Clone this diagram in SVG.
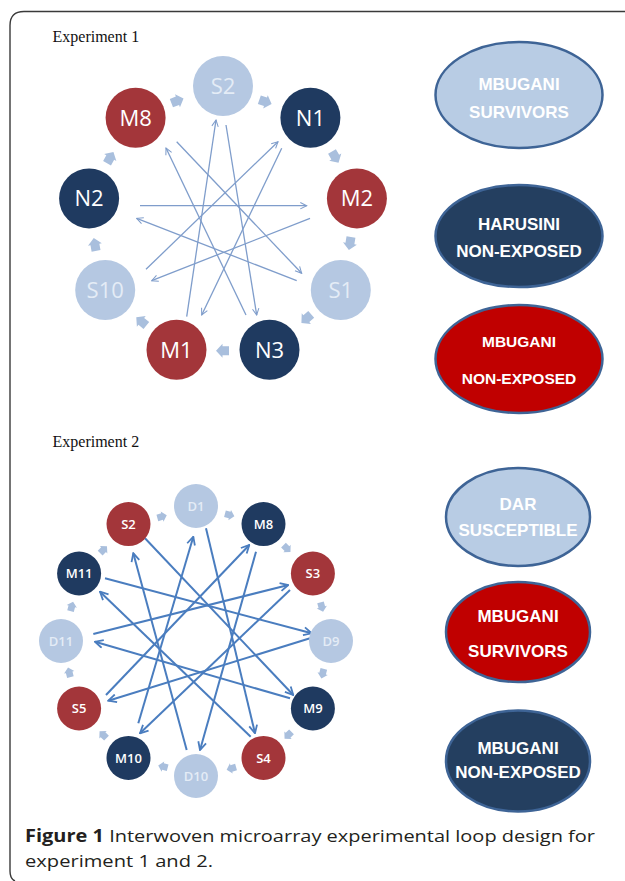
<svg xmlns="http://www.w3.org/2000/svg" xmlns:xlink="http://www.w3.org/1999/xlink" width="625" height="881" viewBox="0 0 625 881">
<style>
.frame{fill:none;stroke:#3a3a3a;stroke-width:1.4}
.hdr{font-family:"Liberation Serif","Times New Roman",serif;font-size:16px;fill:#111}
.red{fill:#a3363a}
.navy{fill:#1f3a60}
.lite{fill:#b5c8e2}
.t1{font-family:"Open Sans","Noto Sans",sans-serif;font-size:22px;fill:#fff;text-anchor:middle}
.t2{font-family:"Open Sans","Noto Sans",sans-serif;font-size:13px;font-weight:600;fill:#fff;text-anchor:middle}
.tl{fill:#e4ecf6}
.c1{fill:none;stroke:#7f9dcb;stroke-width:1.3;marker-end:url(#a1)}
.c2{fill:none;stroke:#4a7dbf;stroke-width:2;marker-end:url(#a2)}
.sa{fill:#a9bfdd}
.leg{stroke:#3e6496;stroke-width:2.5}
.lt{font-family:"Liberation Sans",Arial,sans-serif;font-weight:bold;font-size:17px;fill:#fff;text-anchor:middle}
.cap{font-family:"Open Sans","Noto Sans",sans-serif;font-size:17px;fill:#231f20}
</style>
<defs>
<marker id="a1" viewBox="0 0 10 10" refX="9" refY="5" markerWidth="8" markerHeight="8" orient="auto" markerUnits="userSpaceOnUse">
<path d="M1,1 L9,5 L1,9" fill="none" stroke="#7f9dcb" stroke-width="1.3"/>
</marker>
<marker id="a2" viewBox="0 0 10 10" refX="9" refY="5" markerWidth="10" markerHeight="10" orient="auto" markerUnits="userSpaceOnUse">
<path d="M1,1 L9,5 L1,9" fill="none" stroke="#4a7dbf" stroke-width="1.8"/>
</marker>
<path id="la" d="M-6,-4.5 L0.5,-4.5 L0.5,-7 L7,0 L0.5,7 L0.5,4.5 L-6,4.5 Z"/>
</defs>
<rect width="625" height="881" fill="#fff"/>
<path class="frame" d="M625,11.5 H24 Q10,11.5 10,25.5 V871 Q10,879 15,881"/>

<text class="hdr" x="52.5" y="42">Experiment 1</text>
<text class="hdr" x="52.5" y="447">Experiment 2</text>

<g id="exp1-loop-arrows" class="sa">
<use xlink:href="#la" transform="translate(177,101) rotate(-20.8)"/>
<use xlink:href="#la" transform="translate(265,101.7) rotate(19.2)"/>
<use xlink:href="#la" transform="translate(335,156.7) rotate(59.8)"/>
<use xlink:href="#la" transform="translate(350,243) rotate(99.4)"/>
<use xlink:href="#la" transform="translate(306.7,318.3) rotate(139)"/>
<use xlink:href="#la" transform="translate(223,350.7) rotate(180)"/>
<use xlink:href="#la" transform="translate(141.7,321.7) rotate(219.2)"/>
<use xlink:href="#la" transform="translate(95,245) rotate(259.8)"/>
<use xlink:href="#la" transform="translate(110,158) rotate(-60.5)"/>
</g>

<g id="exp1-connectors">
<path class="c1" d="M140,205.7 L306.7,205.7"/>
<path class="c1" d="M310,218.3 L151.7,280.7"/>
<path class="c1" d="M296.7,280.7 L136.7,218.3"/>
<path class="c1" d="M146,269.3 L278,141.7"/>
<path class="c1" d="M281.7,148.3 L201.7,315"/>
<path class="c1" d="M186.7,316.7 L216,120"/>
<path class="c1" d="M226,125 L256.7,315"/>
<path class="c1" d="M246,315 L166,148"/>
<path class="c1" d="M176.7,141.7 L301.7,273.3"/>
</g>

<g id="e1-S2"><circle class="lite" cx="223" cy="86" r="30"/><text class="t1 tl" x="223" y="93.8">S2</text></g>
<g id="e1-N1"><circle class="navy" cx="310.4" cy="117.8" r="30"/><text class="t1" x="310.4" y="125.6">N1</text></g>
<g id="e1-M2"><circle class="red" cx="356.9" cy="198.4" r="30"/><text class="t1" x="356.9" y="206.2">M2</text></g>
<g id="e1-S1"><circle class="lite" cx="340.8" cy="290" r="30"/><text class="t1 tl" x="340.8" y="297.8">S1</text></g>
<g id="e1-N3"><circle class="navy" cx="269.5" cy="349.8" r="30"/><text class="t1" x="269.5" y="357.6">N3</text></g>
<g id="e1-M1"><circle class="red" cx="176.5" cy="349.8" r="30"/><text class="t1" x="176.5" y="357.6">M1</text></g>
<g id="e1-S10"><circle class="lite" cx="105.2" cy="290" r="30"/><text class="t1 tl" x="105.2" y="297.8">S10</text></g>
<g id="e1-N2"><circle class="navy" cx="89.1" cy="198.4" r="30"/><text class="t1" x="89.1" y="206.2">N2</text></g>
<g id="e1-M8"><circle class="red" cx="135.6" cy="117.8" r="30"/><text class="t1" x="135.6" y="125.6">M8</text></g>

<g id="exp2-loop-arrows" class="sa">
<use xlink:href="#la" transform="translate(161.7,516.7) rotate(-15.4) scale(0.75)"/>
<use xlink:href="#la" transform="translate(229.3,515) rotate(14.8) scale(0.75)"/>
<use xlink:href="#la" transform="translate(286.7,548.3) rotate(44.4) scale(0.75)"/>
<use xlink:href="#la" transform="translate(321.7,606.7) rotate(74.7) scale(0.75)"/>
<use xlink:href="#la" transform="translate(322.7,673.3) rotate(104.3) scale(0.75)"/>
<use xlink:href="#la" transform="translate(288.3,735) rotate(135.5) scale(0.75)"/>
<use xlink:href="#la" transform="translate(231.7,768.3) rotate(164.3) scale(0.75)"/>
<use xlink:href="#la" transform="translate(163.3,766.7) rotate(194.6) scale(0.75)"/>
<use xlink:href="#la" transform="translate(103.3,735) rotate(224.6) scale(0.75)"/>
<use xlink:href="#la" transform="translate(69.3,672.7) rotate(256) scale(0.75)"/>
<use xlink:href="#la" transform="translate(71.7,606.7) rotate(-74.6) scale(0.75)"/>
<use xlink:href="#la" transform="translate(103.3,550) rotate(-45.5) scale(0.75)"/>
</g>

<g id="exp2-connectors">
<path class="c2" d="M145,538.3 L293.3,695"/>
<path class="c2" d="M206,528.3 L255,733.3"/>
<path class="c2" d="M256,551.7 L200,750"/>
<path class="c2" d="M290,590 L140,733.3"/>
<path class="c2" d="M310,638.3 L108.3,700.7"/>
<path class="c2" d="M290,698.3 L95,641.7"/>
<path class="c2" d="M250.7,736.7 L100,591.7"/>
<path class="c2" d="M186.7,750 L133.3,553.3"/>
<path class="c2" d="M138.3,723.3 L193.3,536.7"/>
<path class="c2" d="M106,695 L249.3,545"/>
<path class="c2" d="M93.3,634 L288.3,585"/>
<path class="c2" d="M105,578.3 L311.7,633.3"/>
</g>

<g id="e2-D1"><circle class="lite" cx="196" cy="506" r="22"/><text class="t2 tl" x="196" y="510.6">D1</text></g>
<g id="e2-M8"><circle class="navy" cx="263.5" cy="524.1" r="22"/><text class="t2" x="263.5" y="528.7">M8</text></g>
<g id="e2-S3"><circle class="red" cx="312.9" cy="573.5" r="22"/><text class="t2" x="312.9" y="578.1">S3</text></g>
<g id="e2-D9"><circle class="lite" cx="331" cy="641" r="22"/><text class="t2 tl" x="331" y="645.6">D9</text></g>
<g id="e2-M9"><circle class="navy" cx="312.9" cy="708.5" r="22"/><text class="t2" x="312.9" y="713.1">M9</text></g>
<g id="e2-S4"><circle class="red" cx="263.5" cy="757.9" r="22"/><text class="t2" x="263.5" y="762.5">S4</text></g>
<g id="e2-D10"><circle class="lite" cx="196" cy="776" r="22"/><text class="t2 tl" x="196" y="780.6">D10</text></g>
<g id="e2-M10"><circle class="navy" cx="128.5" cy="757.9" r="22"/><text class="t2" x="128.5" y="762.5">M10</text></g>
<g id="e2-S5"><circle class="red" cx="79.1" cy="708.5" r="22"/><text class="t2" x="79.1" y="713.1">S5</text></g>
<g id="e2-D11"><circle class="lite" cx="61" cy="641" r="22"/><text class="t2 tl" x="61" y="645.6">D11</text></g>
<g id="e2-M11"><circle class="navy" cx="79.1" cy="573.5" r="22"/><text class="t2" x="79.1" y="578.1">M11</text></g>
<g id="e2-S2"><circle class="red" cx="128.5" cy="524.1" r="22"/><text class="t2" x="128.5" y="528.7">S2</text></g>

<g id="legend1-mbugani-survivors"><ellipse class="leg" cx="519" cy="95" rx="83.5" ry="53" fill="#b8cce4"/><text class="lt" x="519" y="89.5">MBUGANI</text><text class="lt" x="519" y="117.5">SURVIVORS</text></g>
<g id="legend1-harusini-nonexposed"><ellipse class="leg" cx="519" cy="236" rx="83.5" ry="51" fill="#243f60"/><text class="lt" x="519" y="229.5">HARUSINI</text><text class="lt" x="519" y="257">NON-EXPOSED</text></g>
<g id="legend1-mbugani-nonexposed"><ellipse class="leg" cx="519" cy="359" rx="83.5" ry="54" fill="#c00000"/><text class="lt" x="519" y="347.3" style="font-size:15.5px">MBUGANI</text><text class="lt" x="519" y="383.9" style="font-size:15.5px">NON-EXPOSED</text></g>

<g id="legend2-dar-susceptible"><ellipse class="leg" cx="518" cy="517" rx="72" ry="49" fill="#b8cce4"/><text class="lt" x="518" y="509.5">DAR</text><text class="lt" x="518" y="536">SUSCEPTIBLE</text></g>
<g id="legend2-mbugani-survivors"><ellipse class="leg" cx="518" cy="632" rx="72" ry="50" fill="#c00000"/><text class="lt" x="518" y="622">MBUGANI</text><text class="lt" x="518" y="656.7">SURVIVORS</text></g>
<g id="legend2-mbugani-nonexposed"><ellipse class="leg" cx="518" cy="761" rx="72" ry="50.5" fill="#243f60"/><text class="lt" x="518" y="754.3">MBUGANI</text><text class="lt" x="518" y="777.7">NON-EXPOSED</text></g>

<text class="cap" x="25" y="842" textLength="570" lengthAdjust="spacingAndGlyphs"><tspan font-weight="bold">Figure 1</tspan> Interwoven microarray experimental loop design for</text>
<text class="cap" x="25" y="867" textLength="188" lengthAdjust="spacingAndGlyphs">experiment 1 and 2.</text>
</svg>
